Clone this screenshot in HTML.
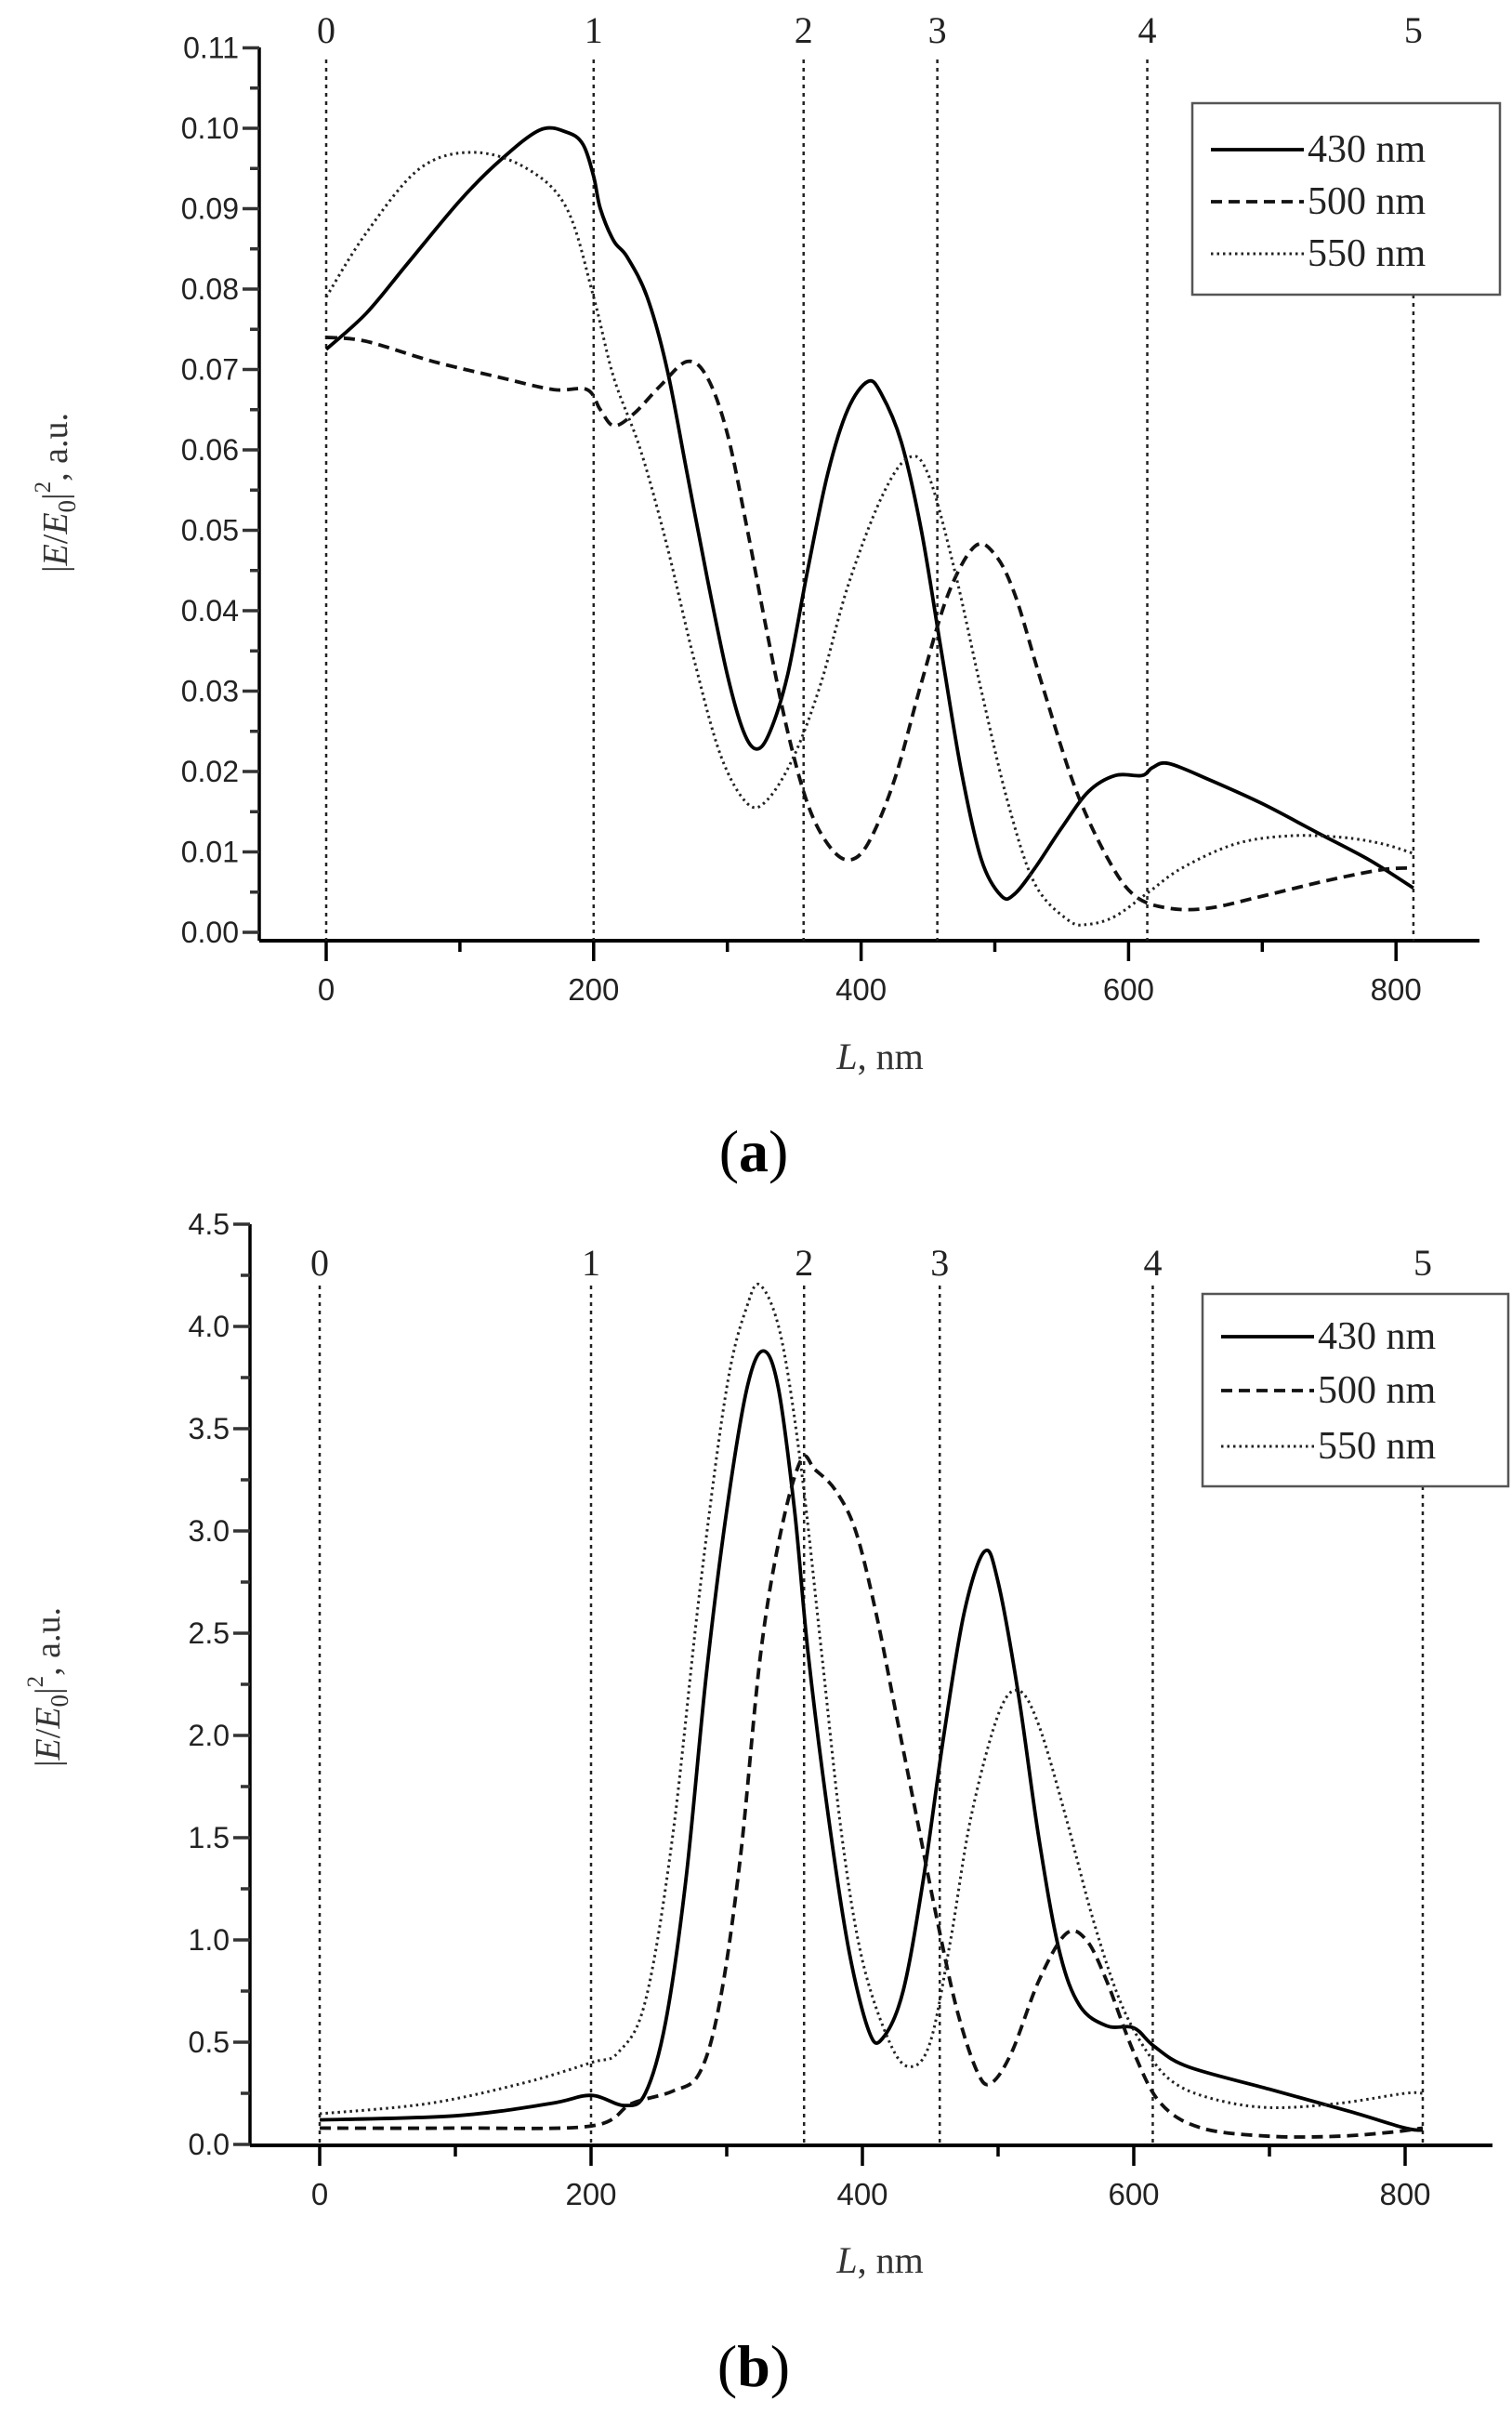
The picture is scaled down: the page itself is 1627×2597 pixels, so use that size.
<!DOCTYPE html>
<html><head><meta charset="utf-8"><style>
html,body{margin:0;padding:0;background:#fff;}
svg{display:block;}
</style></head><body>
<svg id="s" width="1627" height="2597" xmlns="http://www.w3.org/2000/svg" font-family="Liberation Sans, sans-serif"></svg>
<script>
const S=document.getElementById('s');let h='';
function smooth(P){let d=`M${P[0][0].toFixed(1)},${P[0][1].toFixed(1)}`;
 for(let i=0;i<P.length-1;i++){const p0=P[i-1]||P[i],p1=P[i],p2=P[i+1],p3=P[i+2]||p2;
  const c1=[p1[0]+(p2[0]-p0[0])/6,p1[1]+(p2[1]-p0[1])/6],c2=[p2[0]-(p3[0]-p1[0])/6,p2[1]-(p3[1]-p1[1])/6];
  d+=` C${c1[0].toFixed(1)},${c1[1].toFixed(1)} ${c2[0].toFixed(1)},${c2[1].toFixed(1)} ${p2[0].toFixed(1)},${p2[1].toFixed(1)}`;}
 return d;}
function panel(P){
 const X=L=>P.x0+P.kx*L, Y=v=>P.y0-P.ky*v;
 h+=`<line x1="${P.ax}" y1="${P.top}" x2="${P.ax}" y2="${P.ab}" stroke="#000" stroke-width="3.5"/>`;
 h+=`<line x1="${P.ax}" y1="${P.ab}" x2="${P.right}" y2="${P.ab}" stroke="#000" stroke-width="4"/>`;
 for(let L=0;L<=800;L+=100){const maj=L%200==0;
  h+=`<line x1="${X(L)}" y1="${P.ab}" x2="${X(L)}" y2="${P.ab+(maj?22:12)}" stroke="#000" stroke-width="3.5"/>`;
  if(maj)h+=`<text x="${X(L)}" y="${P.ab+64}" font-size="33" text-anchor="middle" fill="#222">${L}</text>`;}
 for(let i=0;i<=P.nT*2;i++){const v=i*P.step/2,maj=i%2==0,y=Y(v);
  h+=`<line x1="${P.ax-(maj?18:10)}" y1="${y}" x2="${P.ax}" y2="${y}" stroke="#333" stroke-width="3.5"/>`;
  if(maj)h+=`<text x="${P.ax-22}" y="${y+11}" font-size="32" text-anchor="end" fill="#222">${v.toFixed(P.dec)}</text>`;}
 const VL=[0,200,357,457,614,813];
 VL.forEach((L,i)=>{const t=i==5?P.leg[3]:P.vtop;
  h+=`<line x1="${X(L)}" y1="${t}" x2="${X(L)}" y2="${P.ab}" stroke="#222" stroke-width="2.5" stroke-dasharray="4,5"/>`;
  h+=`<text x="${X(L)}" y="${P.lab}" font-family="Liberation Serif, serif" font-size="40" text-anchor="middle" fill="#222">${i}</text>`;});
 const st=[['#000',3.8,''],['#111',3.8,'12,7'],['#222',3,'2.5,4']];
 P.d.forEach((pts,k)=>{
  h+=`<path d="${smooth(pts.map(q=>[X(q[0]),Y(q[1])]))}" fill="none" stroke="${st[k][0]}" stroke-width="${st[k][1]}" stroke-dasharray="${st[k][2]}" stroke-linejoin="round"/>`;});
 const [lx1,ly1,lx2,ly2]=P.leg;
 h+=`<rect x="${lx1}" y="${ly1}" width="${lx2-lx1}" height="${ly2-ly1}" fill="#fff" stroke="#555" stroke-width="2.5"/>`;
 ['430 nm','500 nm','550 nm'].forEach((t,k)=>{const y=P.rows[k];
  h+=`<line x1="${lx1+20}" y1="${y}" x2="${lx1+120}" y2="${y}" stroke="${st[k][0]}" stroke-width="${st[k][1]}" stroke-dasharray="${st[k][2]}"/>`;
  h+=`<text x="${lx1+124}" y="${y+13}" font-family="Liberation Serif, serif" font-size="42" fill="#222">${t}</text>`;});
 h+=`<text transform="translate(${P.yt[0]},${P.yt[1]}) rotate(-90)" font-family="Liberation Serif, serif" font-size="38" text-anchor="middle" fill="#333">|<tspan font-style="italic">E</tspan>/<tspan font-style="italic">E</tspan><tspan font-size="27" dy="9">0</tspan><tspan dy="-9">|</tspan><tspan font-size="25" dy="-18">2</tspan><tspan dy="18">, a.u.</tspan></text>`;
 h+=`<text x="${P.xt[0]}" y="${P.xt[1]}" font-family="Liberation Serif, serif" font-size="40" text-anchor="middle" fill="#333"><tspan font-style="italic">L</tspan>, nm</text>`;
 h+=`<text x="811" y="${P.cap}" font-family="Liberation Serif, serif" font-size="64" text-anchor="middle" fill="#000">(<tspan font-weight="bold">${P.c}</tspan>)</text>`;
}
panel({x0:351,kx:1.439,y0:1003,ky:8650,ax:279,ab:1012,top:51,right:1592,step:0.01,nT:11,dec:2,vtop:64,lab:46,
 leg:[1283,111,1614,317],rows:[161,217,273],yt:[72,530],xt:[947,1150],cap:1260,c:'a',
 d:[
 [[0,0.0725],[30,0.077],[60,0.083],[100,0.091],[130,0.096],[160,0.0998],[180,0.0995],[192,0.098],[200,0.094],[205,0.090],[215,0.086],[225,0.084],[240,0.079],[255,0.070],[270,0.057],[285,0.044],[300,0.032],[312,0.025],[322,0.0228],[332,0.025],[345,0.032],[360,0.045],[375,0.057],[390,0.065],[405,0.0685],[415,0.067],[430,0.061],[445,0.050],[460,0.035],[475,0.020],[490,0.009],[505,0.0045],[515,0.0048],[530,0.008],[550,0.013],[570,0.0175],[590,0.0195],[610,0.0195],[618,0.0205],[630,0.021],[660,0.019],[700,0.016],[740,0.0125],[780,0.009],[813,0.0055]],
 [[0,0.074],[30,0.0735],[80,0.071],[130,0.069],[170,0.0675],[195,0.0675],[205,0.065],[215,0.063],[230,0.0645],[250,0.068],[270,0.071],[285,0.069],[300,0.062],[315,0.050],[330,0.037],[345,0.025],[360,0.016],[375,0.011],[390,0.009],[405,0.011],[425,0.019],[445,0.031],[465,0.042],[485,0.048],[500,0.047],[515,0.042],[535,0.031],[560,0.018],[585,0.009],[605,0.0045],[630,0.003],[660,0.003],[700,0.0045],[750,0.0065],[790,0.0078],[813,0.008]],
 [[0,0.079],[30,0.087],[70,0.095],[110,0.097],[150,0.095],[180,0.090],[200,0.079],[215,0.069],[235,0.060],[255,0.048],[275,0.034],[295,0.022],[315,0.016],[330,0.0165],[350,0.022],[370,0.031],[390,0.043],[415,0.054],[435,0.059],[450,0.057],[470,0.045],[490,0.030],[510,0.016],[530,0.006],[555,0.0015],[570,0.001],[590,0.002],[615,0.005],[640,0.008],[680,0.011],[720,0.012],[760,0.0118],[790,0.011],[813,0.0098]]
 ]});
panel({x0:344,kx:1.46,y0:2307,ky:220,ax:269,ab:2308,top:1317,right:1606,step:0.5,nT:9,dec:1,vtop:1383,lab:1372,
 leg:[1294,1392,1623,1599],rows:[1438,1496,1556],yt:[64,1815],xt:[947,2445],cap:2567,c:'b',
 d:[
 [[0,0.12],[100,0.14],[170,0.2],[200,0.24],[225,0.19],[240,0.25],[255,0.6],[270,1.3],[285,2.3],[300,3.1],[315,3.7],[327,3.88],[338,3.7],[350,3.1],[360,2.4],[375,1.6],[390,0.95],[405,0.55],[415,0.52],[430,0.75],[445,1.3],[460,2.0],[475,2.6],[490,2.9],[500,2.75],[515,2.2],[530,1.5],[545,0.95],[560,0.68],[580,0.58],[600,0.57],[615,0.48],[640,0.38],[700,0.27],[760,0.16],[800,0.08],[813,0.07]],
 [[0,0.08],[100,0.08],[200,0.09],[230,0.2],[260,0.26],[280,0.35],[295,0.7],[310,1.4],[325,2.4],[340,3.0],[355,3.35],[365,3.3],[380,3.2],[395,3.0],[410,2.6],[425,2.1],[440,1.6],[455,1.1],[470,0.65],[485,0.35],[495,0.3],[510,0.45],[530,0.8],[550,1.03],[565,1.0],[580,0.8],[600,0.45],[620,0.2],[650,0.08],[700,0.04],[750,0.04],[790,0.06],[813,0.08]],
 [[0,0.15],[80,0.2],[150,0.3],[200,0.4],[220,0.45],[240,0.7],[260,1.5],[280,2.7],[300,3.7],[315,4.1],[325,4.2],[340,3.95],[355,3.3],[370,2.4],[385,1.5],[400,0.9],[420,0.5],[435,0.38],[450,0.5],[465,1.0],[480,1.6],[500,2.1],[515,2.22],[530,2.05],[550,1.6],[570,1.1],[590,0.7],[610,0.45],[630,0.3],[660,0.22],[700,0.18],[750,0.2],[800,0.25],[813,0.25]]
 ]});
S.innerHTML=h;
</script>
</body></html>
